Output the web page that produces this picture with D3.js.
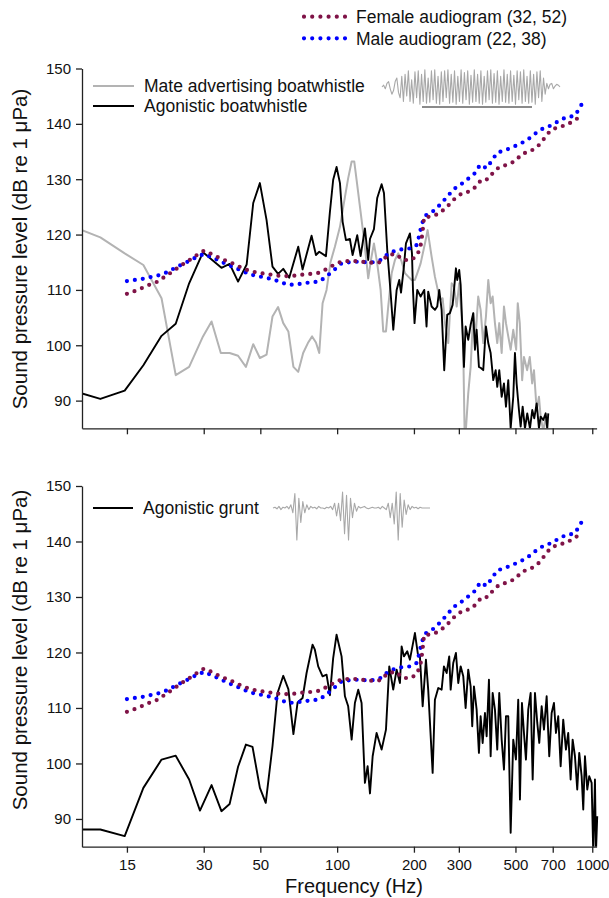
<!DOCTYPE html>
<html>
<head>
<meta charset="utf-8">
<script src="https://cdn.jsdelivr.net/npm/d3@7"></script>
<style>
  body { margin: 0; background: #fff; }
  svg { font-family: "Liberation Sans", Arial, Helvetica, sans-serif; }
</style>
</head>
<body>
<svg id="chart" width="609" height="898"></svg>
<script>
// ---- data ----
const freqTicks = [15, 30, 50, 100, 200, 300, 500, 700, 1000];
const dbTicks = [90, 100, 110, 120, 130, 140, 150];

// [frequency Hz, dB]
const femaleAudiogram = [[15,109.3],[16.1,109.8],[17.3,110.4],[18.5,111],[19.8,111.5],[21.3,112.5],[22.8,113.4],[24.4,114.4],[26.2,115.3],[28,116.2],[30.1,117.1],[32.2,116.5],[34.5,115.8],[37,115.2],[39.8,114.6],[42.6,113.9],[45.7,113.4],[48.9,113.1],[52.5,112.9],[56.2,112.7],[60.2,112.5],[64.5,112.5],[69.2,112.6],[74.1,112.8],[79.5,112.9],[85.1,113.1],[91.2,113.8],[97.8,114.6],[104.7,115.2],[112.3,115.2],[120.3,115.2],[128.9,115],[138.2,114.9],[148.1,115],[158.2,116.3],[169.6,116.5],[181.7,115.4],[194.7,115.4],[204.9,116.1],[209.9,117.2],[212.6,118.1],[214.5,119.2],[215.7,120.2],[217.7,121.7],[219,123.1],[235.4,123.3],[251.4,123.8],[269.5,125],[287.9,126.4],[309.4,127.5],[331.8,127.8],[351.1,128.7],[367.3,129.9],[390.2,130],[411.9,131.4],[434.9,132.3],[466,132.6],[499.2,133.3],[531.8,134.6],[569.8,135],[611,135.9],[646.7,137.3],[682.7,138.7],[729.3,139.4],[781.8,139.7],[838,140.4],[895,141.3]];

const maleAudiogram = [[15,111.6],[16.1,111.8],[17.3,112],[18.5,112.3],[19.8,112.6],[21.3,113.1],[22.8,113.8],[24.4,114.5],[26.2,115.2],[28,115.9],[30.1,116.5],[32.2,115.9],[34.5,115.3],[37,114.6],[39.8,114],[42.6,113.4],[45.7,112.8],[48.9,112.5],[52.5,112.2],[56.2,111.9],[60.2,111.4],[64.5,110.9],[69.2,111],[74.1,111.2],[79.5,111.4],[85.1,111.5],[91.2,112.5],[97.8,113.7],[104.7,114.9],[112.3,115],[120.3,115.1],[128.9,115],[138.2,115],[148.1,115.4],[158.2,116.5],[169.6,117.1],[181.7,117.4],[194.7,117.5],[204.9,118.1],[209.3,119.6],[212.6,121],[216.5,122.3],[223,123.5],[239.1,124.3],[254.6,125.5],[269.5,126.8],[286.4,128.2],[306.6,129.1],[328.7,130.2],[349.2,131.2],[363,132.6],[385.5,132],[404.6,133.4],[424.3,134.8],[453.6,135.2],[487.6,135.8],[522.4,136.4],[559.8,137.2],[600.2,138.3],[642.8,139.2],[689,139.7],[738.6,140.5],[791.1,141.2],[848,141.4],[884.7,142.5],[917.4,143.9]];

const mateBoatwhistle = [[10,120.8],[11.8,119.5],[14.7,116.6],[17.4,114.5],[20.5,108.5],[23.3,94.6],[26.3,96.1],[29.8,101.6],[32.2,104.3],[35,98.6],[37.9,98.6],[40.9,98.1],[43.9,96.1],[46.9,100.2],[49.8,97.7],[52.9,98.3],[55.8,105.2],[58.7,106.9],[61.5,104],[64.4,102.5],[67.4,96.1],[70.4,95.2],[73.6,98.6],[76.8,100.4],[79.8,101.6],[82.6,100.5],[85.1,98.6],[87.7,107.6],[90.9,110],[94.3,115.1],[98,117.8],[102.6,121.4],[106.3,125.7],[110.5,130.2],[114,133.2],[116.7,133.2],[119.2,129.9],[122.9,125],[126.6,120.2],[129.7,116],[132.4,112.1],[135.7,115.4],[139.4,118.4],[143.6,114.8],[148.1,110],[151.6,102.5],[155.4,102.5],[158.6,107],[163.6,113],[168.5,115.4],[173.6,116.6],[179,115.1],[184.5,113],[190,112.4],[195.9,111.8],[201.8,111.8],[206.1,113],[212.5,114.8],[220.9,118.4],[226.3,120.8],[234.6,116],[241.7,112.4],[252.9,108.2],[259.2,108.5],[264.6,104],[272.6,100.4],[281.2,111.2],[287.1,110.6],[294.2,107],[301,111.2],[311.5,101.6],[316.1,84],[318.9,84],[326.5,91.3],[333.7,96.1],[341.6,105.8],[349,101.6],[357.3,108.8],[365.1,106.4],[373.9,100.4],[383.1,105.2],[391.2,111.8],[399.7,107.6],[407,108.8],[415.5,104],[424.3,100.4],[432,104],[441.5,98.6],[450.8,107],[459,104],[468.6,101.6],[478.8,99.2],[490.2,102.8],[503.1,99.2],[510.5,107.6],[519.8,104],[531.2,93.7],[539.9,97.9],[555.7,95.5],[568.9,97.9],[581.3,93.1],[590.9,95.5],[605.5,88.3],[618.2,90.7],[627.7,87.1],[642.6,84.5],[656.7,87.1],[666.3,84.5]];

const agonisticBoatwhistle = [[10,91.3],[11.8,90.3],[14.7,91.8],[17.4,96.4],[20.5,101.7],[23.3,103.9],[26.3,111.2],[29.8,116.8],[35.2,114],[37.9,114.7],[40.9,111.5],[44.2,114.6],[46.9,125.7],[49.8,129.3],[52.9,122.6],[55.8,114.2],[58.7,112.9],[61.5,113.8],[64.9,112.2],[70.4,117.8],[73.2,113.7],[79.4,119.8],[82.6,116.3],[85.1,116.9],[90.4,116.1],[93.7,124.1],[96.5,129.9],[99.5,132.2],[102.6,129.3],[105.1,122.3],[108.3,119],[112.2,119.2],[115,116.3],[119.9,119.9],[123.6,116.1],[128.5,121.1],[132.4,115.4],[134.5,119.2],[139.4,121],[143.6,126.6],[149.4,129.1],[152.6,127.5],[157.2,117.2],[162.1,109.4],[166,102.8],[171.1,110],[175.2,111.8],[178,109.5],[182.7,114.2],[186.1,118.4],[192.9,120.2],[196.5,116.6],[198.3,110],[201.1,104],[206.1,110],[212.5,108.8],[219.5,110],[224.1,103.4],[227.5,109.7],[234.6,107],[241.7,106.4],[246.8,107],[251.3,110],[256.8,106.4],[262.9,95.5],[270.1,105.5],[276.7,105.8],[283.6,107.3],[292.2,113.9],[295.6,111.8],[301,113.6],[304.9,110.9],[314.1,96.1],[318.9,103.4],[326.5,101],[333.7,103.7],[341.6,105.8],[346.9,99.2],[352.2,102.8],[359.6,96.1],[366.2,95.9],[373.9,95.5],[383.1,103.4],[391.2,100.4],[399.7,98.6],[409.2,93.7],[418.2,95.5],[424.3,92.5],[432,95.5],[441.5,90.7],[450.8,93.1],[459,88.9],[468.6,93.7],[478.8,85],[490.2,90.7],[497.7,98.6],[505.3,93.1],[516,88.3],[524,85.3],[533.6,88.9],[544.8,85],[556.2,87.7],[569.9,85],[581.9,88.3],[592.5,86.8],[605.5,89.5],[618.2,85],[627.7,87.1],[642.6,86.5],[656.7,87.7],[666.3,85],[672.4,87.7]];

const agonisticGrunt = [[10,88.1],[11.8,88.1],[14.7,86.9],[17.4,95.6],[20.5,100.7],[23.3,101.4],[26.3,97.1],[29,91.5],[32.2,96.1],[35.2,91.4],[37.9,92.7],[40.9,99.4],[43.9,103.4],[46.6,103],[49.8,95.6],[52.5,92.9],[55.8,103.1],[58.4,112.7],[61.5,115.8],[64.4,113.4],[67.4,105.3],[70,111],[73.2,111.8],[75.9,116.3],[80.1,121.4],[81.8,120.5],[84.3,117.5],[87.7,115.7],[90.9,116],[93.7,112.3],[96.5,119],[99.5,123.2],[104.1,119.3],[107.3,112.1],[110.5,110.3],[114,104.3],[117.4,110.9],[121,113.3],[124.7,110.9],[128.5,96.5],[131.7,99.5],[134.5,94.6],[137.8,101.3],[142.8,105.5],[149.4,102.5],[155.4,106.1],[160.1,117.5],[165.9,113.3],[171.1,116.9],[176.3,114.5],[179,121.1],[182.7,119.3],[188.3,120.2],[192.9,118.7],[201.8,123.5],[207.9,119.3],[211.1,119.3],[216.4,110.3],[222.9,118.7],[227.5,113.3],[236.8,98.3],[241.7,111.5],[249.1,113.6],[256.8,113.3],[262.2,117.5],[268.7,116.3],[275,119.3],[278.6,113.3],[285.2,118.1],[292.2,119.9],[298.4,114.5],[304.9,117.5],[312.2,115.7],[318.9,110],[326.5,116.9],[333.7,113.9],[338.5,106.7],[343.8,113.9],[352.2,109.7],[359.6,101.9],[365.1,108.5],[371.9,103.7],[379.7,109.1],[385.5,104.9],[393.6,115.1],[399.7,101.3],[407,112.7],[415.5,109.7],[424.3,102.5],[432,112.7],[441.5,104.3],[450.8,98.9],[459,108.5],[468.6,108.5],[478.8,87.5],[490.2,104.3],[502.2,100.7],[512.7,111.5],[520.7,93.5],[530.2,110.9],[539.9,105.5],[549.7,100.7],[561.2,109.7],[573.5,112.7],[584,97.1],[596.3,112.7],[608.8,107.3],[619.9,103.7],[633.4,110.3],[646.8,106.1],[662.6,112.1],[678.3,101.3],[693.1,109.1],[707.8,110.9],[720.6,105.5],[735.7,108.5],[751.8,99.5],[769.6,107.9],[788.6,102.5],[805.1,105.5],[822.7,97.1],[837.8,104.3],[855.4,101.3],[873.3,95.3],[889.2,101.9],[908.7,97.7],[922,91.7],[936.3,101.3],[955.9,95.3],[973.2,97.7],[994.5,96.5],[1009,84],[1024.7,97.1],[1034,84],[1046,90.5]];

// oscillogram insets (relative amplitude)
const whistleWave = [0,0.1,-0.1,0.2,0.3,-0.1,-0.4,-0.2,0.3,0.5,-0.3,-0.6,0.6,-0.8,0.7,-0.5,0.9,-0.8,0.4,-0.9,0.85,-0.6,0.9,-0.95,0.7,-0.8,0.95,-0.9,0.5,-0.85,0.9,-0.7,0.95,-0.9,0.6,-0.95,0.85,-0.8,0.9,-0.6,0.95,-0.9,0.7,-0.85,0.9,-0.95,0.6,-0.8,0.95,-0.9,0.8,-0.7,0.9,-0.95,0.65,-0.85,0.95,-0.8,0.7,-0.9,0.9,-0.95,0.6,-0.85,0.9,-0.7,0.95,-0.9,0.75,-0.85,0.9,-0.95,0.6,-0.8,0.95,-0.85,0.7,-0.9,0.9,-0.8,0.65,-0.95,0.9,-0.7,0.85,-0.9,0.95,-0.8,0.6,-0.9,0.9,-0.85,0.7,-0.95,0.85,-0.6,0.9,-0.8,0.5,-0.4,0.2,-0.1,0.15,0.2,-0.1,0.05,0.15,0.1,0];
const gruntWave = [0,0.05,-0.05,0.1,-0.1,0.05,0,0.1,-0.05,0.2,-0.3,0.9,-2.0,0.6,-0.9,0.4,-0.3,0.2,-0.1,0.1,0,0.05,-0.05,0.1,0,0,-0.05,0.05,0,0.1,-0.1,0.3,-0.5,0.3,-0.8,1.0,-1.6,0.8,-2.0,0.6,-0.6,0.3,-0.2,0.1,0,0.05,0.1,0,-0.05,0,0.05,0,0,0.05,-0.05,0.1,0,-0.1,0.3,-0.6,0.3,-1.0,1.0,-2.0,0.9,-1.2,0.5,-0.4,0.2,-0.1,0.1,0,0.05,-0.05,0.05,0,0,0,0,0];

// ---- drawing ----
const svg = d3.select("#chart");
const x = d3.scaleLog().domain([10, 1040]).range([82, 596.6]);
const femaleColor = "#7f1347", maleColor = "#0000ff", grayColor = "#b3b3b3";

function drawPanel(id, yTop, yBottom, showLabels, spectra, titleY) {
    const y = d3.scaleLinear().domain([85, 150]).range([yBottom, yTop]);
    const g = svg.append("g");

    svg.append("clipPath").attr("id", "clip-" + id)
        .append("rect").attr("x", 82).attr("y", yTop - 10)
        .attr("width", 527).attr("height", yBottom - yTop + 10);

    const line = d3.line().x(d => x(d[0])).y(d => y(d[1]));
    const plot = g.append("g").attr("clip-path", `url(#clip-${id})`);

    spectra.forEach(s => {
        plot.append("path").datum(s.data)
            .attr("d", line).attr("fill", "none")
            .attr("stroke", s.color).attr("stroke-width", s.width)
            .attr("stroke-linejoin", "round");
    });

    [[maleAudiogram, maleColor], [femaleAudiogram, femaleColor]].forEach(([data, color]) => {
        plot.append("path").datum(data)
            .attr("d", line).attr("fill", "none")
            .attr("stroke", color).attr("stroke-width", 4.2)
            .attr("stroke-linecap", "round")
            .attr("stroke-dasharray", "0,8");
    });

    const xAxis = g.append("g").attr("transform", `translate(0,${yBottom})`)
        .call(d3.axisBottom(x).tickValues(freqTicks)
            .tickFormat(showLabels ? d3.format("d") : "")
            .tickSize(6).tickSizeOuter(0).tickPadding(7));
    const yAxis = g.append("g").attr("transform", "translate(82,0)")
        .call(d3.axisLeft(y).tickValues(dbTicks).tickSize(6).tickSizeOuter(0).tickPadding(5));

    [xAxis, yAxis].forEach(a => {
        a.selectAll("path, line").attr("stroke", "#222").attr("stroke-width", 1.3);
        a.selectAll("text").attr("font-size", 15).attr("fill", "#111")
            .attr("font-family", "'Liberation Sans', Arial, sans-serif");
    });

    g.append("text")
        .attr("transform", `translate(27,${titleY}) rotate(-90)`)
        .attr("text-anchor", "middle").attr("font-size", 20.5).attr("fill", "#111")
        .text("Sound pressure level (dB re 1 μPa)");
}

drawPanel("top", 68.5, 428.3, false, [
    { data: mateBoatwhistle, color: grayColor, width: 2 },
    { data: agonisticBoatwhistle, color: "#000", width: 1.9 }
], 249);

drawPanel("bottom", 486, 846.7, true, [
    { data: agonisticGrunt, color: "#000", width: 1.9 }
], 650);

svg.append("text").attr("x", 354).attr("y", 893)
    .attr("text-anchor", "middle").attr("font-size", 20).attr("fill", "#111")
    .text("Frequency (Hz)");

// legends
function legendEntry(x0, x1, yy, label, color, dotted, width) {
    const l = svg.append("line").attr("x1", x0).attr("x2", x1).attr("y1", yy).attr("y2", yy)
        .attr("stroke", color);
    if (dotted) {
        l.attr("stroke-width", 4.2).attr("stroke-linecap", "round").attr("stroke-dasharray", "0,8.2");
    } else {
        l.attr("stroke-width", width);
    }
    svg.append("text").attr("x", dotted ? 356 : x1 + 10).attr("y", yy + 6.2)
        .attr("font-size", 17.5).attr("fill", "#111").text(label);
}
legendEntry(304, 345, 16.7, "Female audiogram (32, 52)", femaleColor, true);
legendEntry(304, 345, 38.3, "Male audiogram (22, 38)", maleColor, true);
legendEntry(93, 134, 86, "Mate advertising boatwhistle", grayColor, false, 2);
legendEntry(93, 134, 106, "Agonistic boatwhistle", "#000", false, 2);
legendEntry(93, 133, 508, "Agonistic grunt", "#000", false, 2);

// oscillogram insets
function wave(data, x0, x1, yScale, color) {
    const wx = d3.scaleLinear().domain([0, data.length - 1]).range([x0, x1]);
    svg.append("path").datum(data)
        .attr("d", d3.line().x((d, i) => wx(i)).y(d => yScale(d)))
        .attr("fill", "none").attr("stroke", color).attr("stroke-width", 1.1)
        .attr("stroke-linejoin", "round");
}
wave(whistleWave, 382, 560, d3.scaleLinear().domain([-1, 1]).range([105, 69]), "#a8a8a8");
svg.append("line").attr("x1", 422).attr("x2", 532).attr("y1", 107).attr("y2", 107)
    .attr("stroke", "#8a8a8a").attr("stroke-width", 2.2);
wave(gruntWave, 273, 430, d3.scaleLinear().domain([-2, 1]).range([540, 492]), "#a8a8a8");
</script>
</body>
</html>
